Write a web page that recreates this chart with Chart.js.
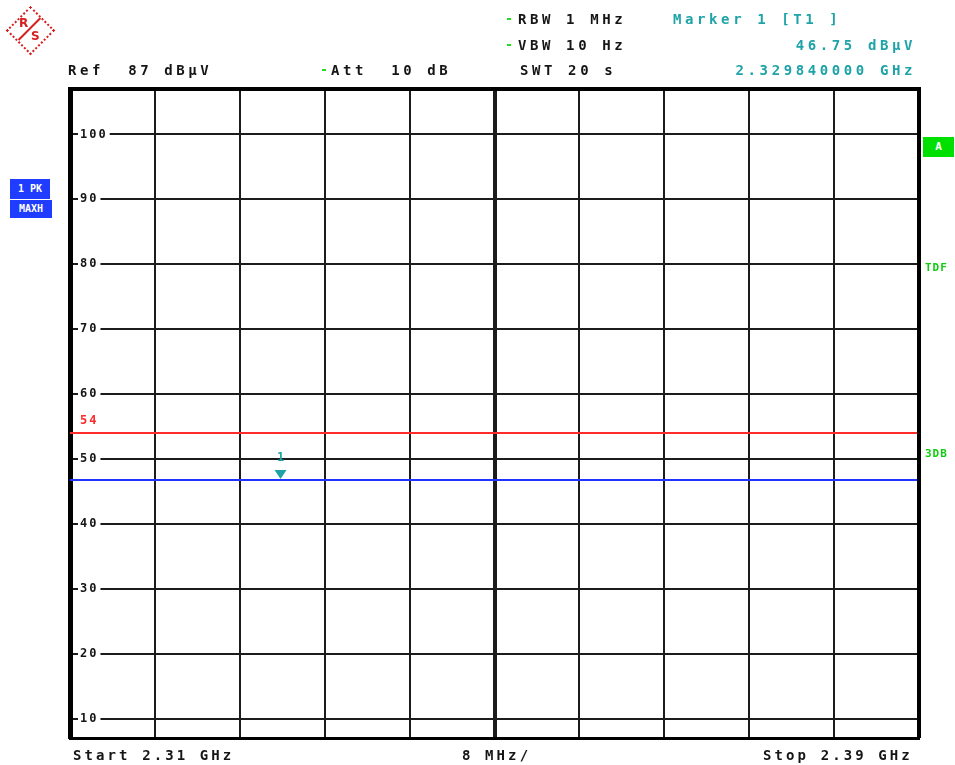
<!DOCTYPE html>
<html lang="en">
<head>
<meta charset="UTF-8" />
<title>Spectrum Analyzer - 2.31 to 2.39 GHz</title>
<script src="https://cdn.jsdelivr.net/npm/chart.js"></script>
<style>
  body { margin: 0; background: #fff; font-family: 'DejaVu Sans Mono', monospace; }
  #wrap { position: relative; width: 955px; height: 765px; overflow: hidden; }
  #wrap canvas { position: absolute; left: 0; top: 0; }
  .t { position: absolute; font-weight: bold; font-size: 14px; line-height: 14px;
       letter-spacing: 3.6px; white-space: pre; color: #151515; }
  .teal { color: #1ea3a8; }
  .dot { position: absolute; width: 4px; height: 2px; background: #22dd22; }
  .bot { letter-spacing: 3.1px; }
  .box { position: absolute; background: #1f3cff; color: #fff; font-weight: bold;
         font-size: 10px; line-height: 10px; white-space: pre; text-align: center; }
  .gbox { position: absolute; background: #00e000; color: #fff; font-weight: bold;
          font-size: 11px; line-height: 20px; text-align: center; }
  .gt { position: absolute; color: #10cc10; font-weight: bold; font-size: 11px;
        line-height: 11px; letter-spacing: 1px; }
  .logo { position: absolute; left: 6px; top: 6px; width: 47px; height: 47px; }
  .dia { position: absolute; left: 7px; top: 7px; width: 31px; height: 31px;
         border: 2px dotted #d42020; transform: rotate(45deg); }
  .slash { position: absolute; left: 8px; top: 22px; width: 31px; height: 2px;
           background: #d42020; transform: rotate(-45deg); }
  .lr, .ls { position: absolute; color: #d42020; font-weight: bold; font-size: 12px;
             line-height: 12px; font-family: 'DejaVu Sans', sans-serif; }
  .lr { left: 13px; top: 11px; }
  .ls { left: 25px; top: 24px; }
</style>
</head>
<body>
<div id="wrap">
  <canvas id="spec" width="955" height="765"></canvas>

  <div class="logo">
    <div class="dia"></div><div class="slash"></div>
    <span class="lr">R</span><span class="ls">S</span>
  </div>

  <div class="t" style="left:68px; top:63px;">Ref  87 dBµV</div>
  <div class="dot" style="left:322px; top:69px;"></div>
  <div class="t" style="left:331px; top:63px;">Att  10 dB</div>

  <div class="dot" style="left:507px; top:18px;"></div>
  <div class="t" style="left:518px; top:12px;">RBW 1 MHz</div>
  <div class="dot" style="left:507px; top:44px;"></div>
  <div class="t" style="left:518px; top:38px;">VBW 10 Hz</div>
  <div class="t" style="left:520px; top:63px;">SWT 20 s</div>

  <div class="t teal" style="left:673px; top:12px;">Marker 1 [T1 ]</div>
  <div class="t teal" style="right:39px; top:38px;">46.75 dBµV</div>
  <div class="t teal" style="right:39px; top:63px;">2.329840000 GHz</div>

  <div class="box" style="left:10px; top:179px; width:40px; height:20px; line-height:20px;">1 PK</div>
  <div class="box" style="left:10px; top:200px; width:42px; height:18px; line-height:18px;">MAXH</div>

  <div class="gbox" style="left:923px; top:137px; width:31px; height:20px;">A</div>
  <div class="gt" style="left:925px; top:262px;">TDF</div>
  <div class="gt" style="left:925px; top:448px;">3DB</div>

  <div class="t bot" style="left:73px; top:748px;">Start 2.31 GHz</div>
  <div class="t bot" style="left:462px; top:748px;">8 MHz/</div>
  <div class="t bot" style="left:763px; top:748px;">Stop 2.39 GHz</div>
</div>

<script>
  // sweep and grid
  const startFreq = 2.31, stopFreq = 2.39, centerFreq = 2.35;   // GHz
  const gridFreqs = [2.31, 2.318, 2.326, 2.334, 2.342, 2.35, 2.358, 2.366, 2.374, 2.382, 2.39];
  const levelTicks = [10, 20, 30, 40, 50, 60, 70, 80, 90, 100];  // dBµV
  const levelMin = 7, levelMax = 107;

  // trace 1 (max hold) and the limit line
  const traceFreq = [2.31, 2.39];
  const traceLevel = [46.75, 46.75];
  const limitFreq = [2.31, 2.39];
  const limitLevel = [54, 54];

  // marker 1
  const markerFreq = [2.32984];
  const markerLevel = [46.75];

  const toPoints = (xs, ys) => xs.map((x, i) => ({ x: x, y: ys[i] }));

  // frame, limit label, marker glyph
  const decor = {
    id: 'decor',
    beforeUpdate(chart) { chart.ctx.letterSpacing = '2px'; },
    beforeDraw(chart) { chart.ctx.letterSpacing = '2px'; },
    afterDatasetsDraw(chart) {
      const ctx = chart.ctx, a = chart.chartArea;
      const xs = chart.scales.x, ys = chart.scales.y;
      ctx.save();
      ctx.strokeStyle = '#000';
      ctx.lineWidth = 4;
      ctx.beginPath();
      ctx.moveTo(a.left, a.top); ctx.lineTo(a.right, a.top); ctx.lineTo(a.right, a.bottom);
      ctx.stroke();

      ctx.font = 'bold 12px "DejaVu Sans Mono"';
      ctx.textBaseline = 'middle';
      ctx.fillStyle = '#ff2a2a';
      ctx.textAlign = 'left';
      ctx.fillText(String(limitLevel[0]), a.left + 10, ys.getPixelForValue(limitLevel[0]) - 12);

      ctx.fillStyle = '#1ea3a8';
      markerFreq.forEach((f, i) => {
        const px = xs.getPixelForValue(f), py = ys.getPixelForValue(markerLevel[i]);
        ctx.beginPath();
        ctx.moveTo(px - 6, py - 10); ctx.lineTo(px + 6, py - 10); ctx.lineTo(px, py - 1);
        ctx.closePath();
        ctx.fill();
        ctx.textAlign = 'center';
        ctx.fillText(String(i + 1), px + 1, py - 22);
      });
      ctx.restore();
    }
  };

  new Chart(document.getElementById('spec'), {
    type: 'line',
    data: {
      datasets: [
        { label: 'Limit', data: toPoints(limitFreq, limitLevel),
          borderColor: '#ff2a2a', borderWidth: 2, pointRadius: 0 },
        { label: 'Trace 1', data: toPoints(traceFreq, traceLevel),
          borderColor: '#2233ff', borderWidth: 2, pointRadius: 0 }
      ]
    },
    options: {
      responsive: false,
      animation: false,
      events: [],
      layout: { padding: { left: 50, top: 89, right: 36, bottom: 27 } },
      plugins: { legend: { display: false }, tooltip: { enabled: false } },
      scales: {
        x: {
          type: 'linear', min: startFreq, max: stopFreq,
          afterBuildTicks: s => { s.ticks = gridFreqs.map(v => ({ value: v })); },
          ticks: { display: false },
          grid: {
            color: '#1c1c1c', drawTicks: false,
            lineWidth: c => (c.tick && Math.abs(c.tick.value - centerFreq) < 1e-6) ? 4 : 2
          },
          border: { display: true, color: '#000', width: 3 }
        },
        y: {
          type: 'linear', min: levelMin, max: levelMax,
          afterBuildTicks: s => { s.ticks = levelTicks.map(v => ({ value: v })); },
          ticks: {
            mirror: true, padding: 10, color: '#151515',
            font: { family: 'DejaVu Sans Mono', weight: 'bold', size: 12 },
            showLabelBackdrop: true, backdropColor: '#fff',
            backdropPadding: { left: 2, right: 2, top: 1, bottom: 1 }
          },
          grid: { color: '#1c1c1c', lineWidth: 2, drawTicks: false },
          border: { display: true, color: '#000', width: 5 }
        }
      }
    },
    plugins: [decor]
  });
</script>
</body>
</html>
